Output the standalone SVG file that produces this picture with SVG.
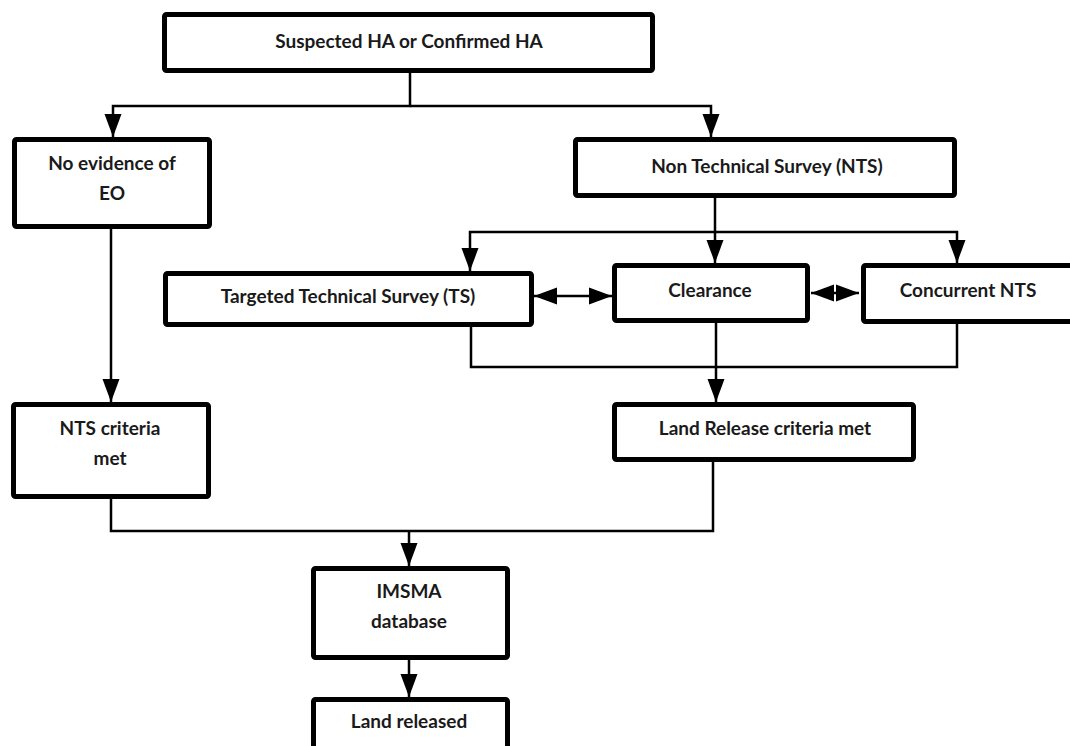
<svg xmlns="http://www.w3.org/2000/svg" width="1070" height="746" viewBox="0 0 1070 746">
  <style>
    .box { fill: #ffffff; stroke: #000000; stroke-width: 5; }
    .lbl { font-family: Lato, "Open Sans", "Liberation Sans", sans-serif; font-weight: bold; font-size: 19px; fill: #1a1a1a; text-anchor: middle; }
    .wire { fill: none; stroke: #000000; stroke-width: 2.5; }
    .arrow { marker-end: url(#head); }
  </style>
  <defs>
    <marker id="head" markerUnits="userSpaceOnUse" markerWidth="24" markerHeight="20" viewBox="0 0 24 20" refX="23" refY="10" orient="auto">
      <path d="M0 1.5 L23 10 L0 18.5 Z" fill="#000000"/>
    </marker>
    <marker id="headStart" markerUnits="userSpaceOnUse" markerWidth="24" markerHeight="20" viewBox="0 0 24 20" refX="1" refY="10" orient="auto">
      <path d="M24 1.5 L1 10 L24 18.5 Z" fill="#000000"/>
    </marker>
  </defs>

  <rect width="1070" height="746" fill="#ffffff"/>

  <!-- connectors -->
  <g id="connectors">
    <path class="wire arrow" d="M410 73 V106 H113 V137"/>
    <path class="wire arrow" d="M410 106 H711 V137"/>
    <path class="wire arrow" d="M715 198 V232 H470 V271"/>
    <path class="wire arrow" d="M715 232 V263"/>
    <path class="wire arrow" d="M715 232 H957 V263"/>
    <path class="wire" d="M534 296 H612" marker-start="url(#headStart)" marker-end="url(#head)"/>
    <path class="wire" d="M811 293 H859" marker-start="url(#headStart)" marker-end="url(#head)"/>
    <path class="wire" d="M471 327 V367 H957 V324"/>
    <path class="wire arrow" d="M716 323 V402"/>
    <path class="wire arrow" d="M111 229 V402"/>
    <path class="wire" d="M111 499 V531 H713 V462"/>
    <path class="wire arrow" d="M409 531 V566"/>
    <path class="wire arrow" d="M409 660 V697"/>
  </g>

  <g id="node-suspected">
    <rect class="box" x="164.5" y="14.5" width="488" height="56" rx="2"/>
    <text class="lbl" x="409" y="48">Suspected HA or Confirmed HA</text>
  </g>
  <g id="node-no-evidence">
    <rect class="box" x="14.5" y="139.5" width="195" height="87" rx="2"/>
    <text class="lbl" x="112" y="170">No evidence of</text>
    <text class="lbl" x="112" y="200">EO</text>
  </g>
  <g id="node-nts">
    <rect class="box" x="575.5" y="139.5" width="379" height="56" rx="2"/>
    <text class="lbl" x="767" y="173">Non Technical Survey (NTS)</text>
  </g>
  <g id="node-ts">
    <rect class="box" x="165.5" y="273.5" width="366" height="51" rx="2"/>
    <text class="lbl" x="348" y="303">Targeted Technical Survey (TS)</text>
  </g>
  <g id="node-clearance">
    <rect class="box" x="614.5" y="265.5" width="193" height="55" rx="2"/>
    <text class="lbl" x="710" y="297">Clearance</text>
  </g>
  <g id="node-concurrent">
    <rect class="box" x="863.5" y="265.5" width="220" height="56" rx="2"/>
    <text class="lbl" x="968" y="297">Concurrent NTS</text>
  </g>
  <g id="node-nts-criteria">
    <rect class="box" x="13.5" y="404.5" width="195" height="92" rx="2"/>
    <text class="lbl" x="110" y="435">NTS criteria</text>
    <text class="lbl" x="110" y="465">met</text>
  </g>
  <g id="node-lr-criteria">
    <rect class="box" x="614.5" y="404.5" width="299" height="55" rx="2"/>
    <text class="lbl" x="765" y="435">Land Release criteria met</text>
  </g>
  <g id="node-imsma">
    <rect class="box" x="313.5" y="568.5" width="194" height="89" rx="2"/>
    <text class="lbl" x="409" y="598">IMSMA</text>
    <text class="lbl" x="409" y="628">database</text>
  </g>
  <g id="node-land-released">
    <rect class="box" x="313.5" y="699.5" width="194" height="60" rx="2"/>
    <text class="lbl" x="409" y="728">Land released</text>
  </g>
</svg>
